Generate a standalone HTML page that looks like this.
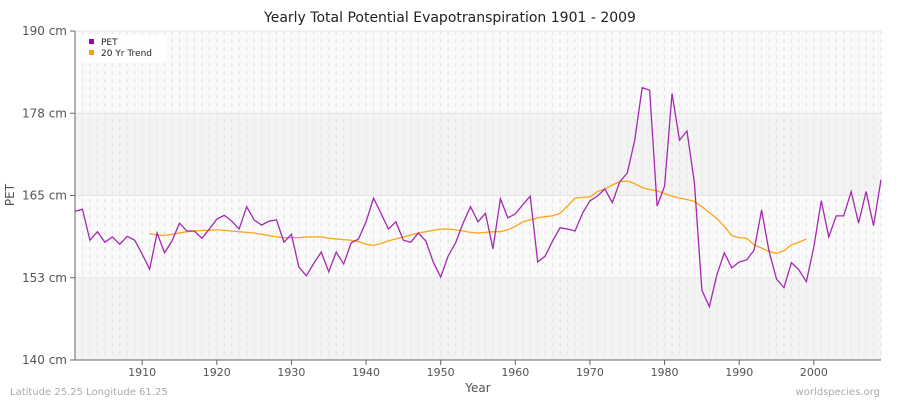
<!DOCTYPE html>
<html><head><meta charset="utf-8"><style>
body{margin:0;background:#fff;font-family:"Liberation Sans",sans-serif}
svg text{font-family:"DejaVu Sans","Liberation Sans",sans-serif}
</style></head><body>
<svg id="c" width="900" height="400" xmlns="http://www.w3.org/2000/svg"></svg>
<script>
const years=[];for(let y=1901;y<=2009;y++)years.push(y);
const petValues=[162.6,162.9,158.2,159.5,157.9,158.7,157.6,158.8,158.2,156.1,153.8,159.3,156.3,158.1,160.8,159.6,159.6,158.5,159.9,161.4,162.0,161.1,159.9,163.3,161.3,160.5,161.1,161.3,157.9,159.1,154.1,152.8,154.7,156.4,153.4,156.4,154.6,157.8,158.4,161.0,164.6,162.3,159.9,161.0,158.2,157.9,159.3,158.1,154.9,152.6,155.8,157.8,160.8,163.3,161.0,162.3,156.9,164.5,161.6,162.2,163.6,164.9,154.9,155.8,158.1,160.1,159.9,159.6,162.3,164.2,164.9,166.0,163.9,167.1,168.4,173.4,181.4,181.0,163.4,166.4,180.5,173.4,174.8,166.9,150.6,148.1,152.9,156.3,154.0,154.9,155.2,156.7,162.8,156.5,152.3,151.0,154.8,153.7,151.9,157.2,164.2,158.7,161.9,161.9,165.6,160.8,165.6,160.4,167.4];
const trendYears=[];for(let y=1911;y<=1999;y++)trendYears.push(y);
const trendValues=[159.2,159.0,158.9,159.1,159.3,159.5,159.6,159.7,159.7,159.8,159.7,159.6,159.5,159.4,159.3,159.1,158.9,158.7,158.6,158.6,158.6,158.7,158.7,158.7,158.5,158.4,158.3,158.2,158.0,157.6,157.4,157.7,158.1,158.4,158.7,159.0,159.3,159.5,159.7,159.9,159.9,159.8,159.6,159.4,159.3,159.4,159.5,159.5,159.8,160.3,161.0,161.3,161.6,161.8,161.9,162.3,163.4,164.6,164.7,164.8,165.6,166.0,166.6,167.1,167.2,166.8,166.2,165.9,165.7,165.3,164.9,164.6,164.4,164.1,163.3,162.4,161.5,160.3,158.9,158.6,158.5,157.5,157.0,156.5,156.2,156.6,157.5,157.9,158.4];
const yTicks=[140,152.5,165,177.5,190];
const yTickLabels=["140 cm","153 cm","165 cm","178 cm","190 cm"];
const xTicks=[1910,1920,1930,1940,1950,1960,1970,1980,1990,2000];
const L=75,R=881,T=31,B=360;
const xs=y=>L+(y-1901)*(R-L)/108;
const ys=v=>B-(v-140)*(B-T)/50;
const svg=document.getElementById('c');const NS='http://www.w3.org/2000/svg';
function mk(t,a,p){const e=document.createElementNS(NS,t);for(const k in a)e.setAttribute(k,a[k]);(p||svg).appendChild(e);return e;}
// bands
for(let i=0;i<4;i++){const r=mk('rect',{x:L,y:ys(yTicks[i+1]),width:R-L,height:ys(yTicks[i])-ys(yTicks[i+1]),fill:i%2==0?'#f3f3f3':'#fafafa'});

}
years.forEach(y=>{const l=mk('line',{x1:xs(y),x2:xs(y),y1:T,y2:B,stroke:'#e2e2e2','stroke-dasharray':'4,4','stroke-width':1});

});
yTicks.forEach((v,i)=>{const l=mk('line',{x1:L,x2:R,y1:ys(v),y2:ys(v),stroke:'#e6e6e6','stroke-width':1});


mk('line',{x1:L-5,x2:L,y1:ys(v),y2:ys(v),stroke:'#666'});
const t=mk('text',{x:L-8,y:ys(v)+4,'text-anchor':'end','font-size':12,fill:'#555'});t.textContent=yTickLabels[i];

});
xTicks.forEach(y=>{mk('line',{x1:xs(y),x2:xs(y),y1:B,y2:B+5,stroke:'#666'});
const t=mk('text',{x:xs(y),y:B+16,'text-anchor':'middle','font-size':11,fill:'#555'});t.textContent=y;

});
mk('line',{x1:L,x2:L,y1:T,y2:B,stroke:'#666'});
mk('line',{x1:L,x2:R,y1:B,y2:B,stroke:'#666'});
const tr=mk('polyline',{points:trendYears.map((y,i)=>xs(y)+','+ys(trendValues[i])).join(' '),fill:'none',stroke:'#ffa31a','stroke-width':1.3});


const pl=mk('polyline',{points:years.map((y,i)=>xs(y)+','+ys(petValues[i])).join(' '),fill:'none',stroke:'#a329b0','stroke-width':1.3});


</script>
<svg width="900" height="400" style="position:absolute;left:0;top:0">
<text x="450" y="22" text-anchor="middle" font-size="14" fill="#222">Yearly Total Potential Evapotranspiration 1901 - 2009</text>
<text x="478" y="392" text-anchor="middle" font-size="12" fill="#555">Year</text>
<text x="14" y="195" text-anchor="middle" font-size="12" fill="#555" transform="rotate(-90 14 195)">PET</text>
<text x="10" y="395" font-size="10" fill="#aaa">Latitude 25.25 Longitude 61.25</text>
<text x="880" y="395" text-anchor="end" font-size="10" fill="#aaa">worldspecies.org</text>
<g>
<rect x="82" y="34" width="84" height="29" rx="4" fill="#fff" opacity="0.9"/>
<rect x="89" y="39" width="5" height="5" fill="#a0009f"/>
<text x="101" y="45" font-size="9" fill="#222">PET</text>
<rect x="89" y="50" width="5" height="5" fill="#ffa000"/>
<text x="101" y="56" font-size="9" fill="#222">20 Yr Trend</text>
</g>
</svg>
</body></html>
